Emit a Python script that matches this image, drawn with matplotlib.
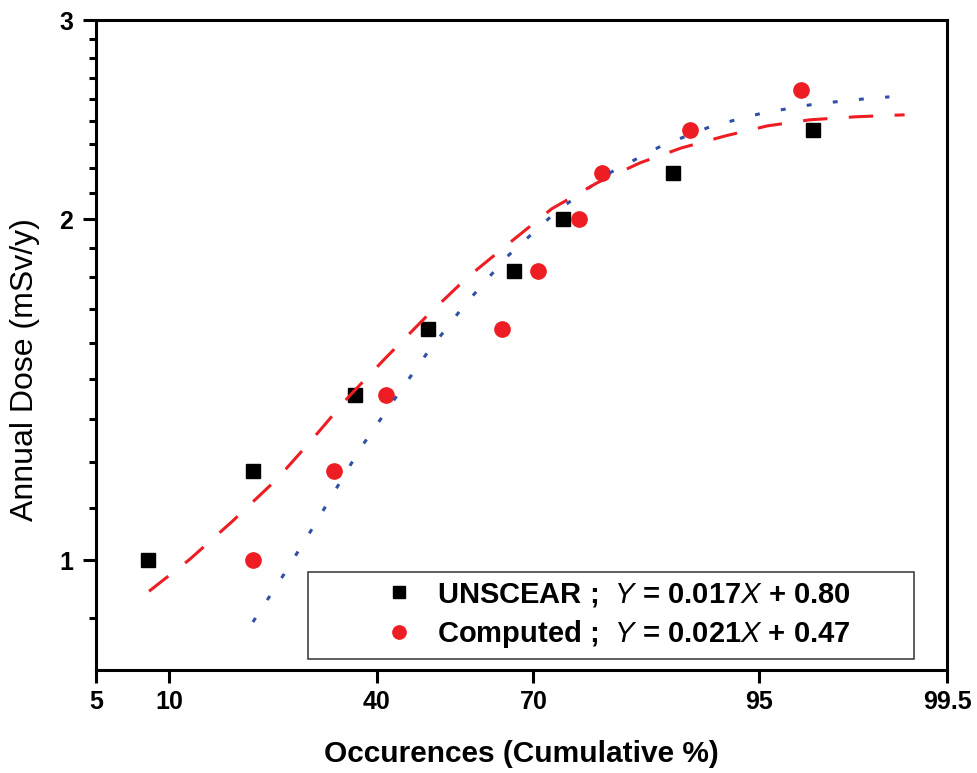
from statistics import NormalDist

import matplotlib
matplotlib.use("Agg")
import matplotlib.pyplot as plt
import numpy as np
from matplotlib.legend_handler import HandlerLine2D
from matplotlib.ticker import FixedLocator, NullFormatter, NullLocator

plt.rcParams['font.family'] = ['Liberation Sans', 'DejaVu Sans']
plt.rcParams['mathtext.fontset'] = 'custom'
plt.rcParams['mathtext.rm'] = 'Liberation Sans'
plt.rcParams['mathtext.it'] = 'Liberation Sans:italic'

# measured doses, cumulative occurrence in %
unscear_pct = [8.3, 19.3, 35.9, 50.1, 66.6, 74.9, 88.8, 97.2]
unscear_dose = [1.0, 1.2, 1.4, 1.6, 1.8, 2.0, 2.2, 2.4]
computed_pct = [19.3, 32.1, 41.8, 64.4, 70.8, 77.4, 80.7, 90.3, 96.8]
computed_dose = [1.0, 1.2, 1.4, 1.6, 1.8, 2.0, 2.2, 2.4, 2.6]

# fitted curves
unscear_fit_pct = [19.3, 23.8, 28.7, 36.9, 43.0, 49.7, 57.0, 65.3, 74.0, 81.7,
                   87.7, 92.1, 95.2, 97.3, 98.5, 98.9]
unscear_fit_dose = [0.882, 0.972, 1.074, 1.255, 1.378, 1.520, 1.675, 1.854, 2.036, 2.199,
                    2.323, 2.419, 2.484, 2.530, 2.556, 2.566]
computed_fit_pct = [8.35, 11.9, 16.6, 22.7, 28.2, 34.6, 41.8, 49.7, 57.7, 66.0,
                    73.1, 80.0, 85.4, 89.6, 93.0, 95.4, 97.1, 98.3, 99.1]
computed_fit_dose = [0.939, 1.002, 1.082, 1.179, 1.276, 1.392, 1.510, 1.641, 1.776, 1.911,
                     2.044, 2.155, 2.244, 2.313, 2.370, 2.419, 2.449, 2.464, 2.474]

unscear_label = r"UNSCEAR ;  $Y$ = 0.017$X$ + 0.80"
computed_label = r"Computed ;  $Y$ = 0.021$X$ + 0.47"

x_ticks = [5, 10, 40, 70, 95, 99.5]
x_tick_labels = ["5", "10", "40", "70", "95", "99.5"]
y_ticks = [1, 2, 3]
y_tick_labels = ["1", "2", "3"]

# normal probability scale for the x axis
_norm = NormalDist()
_ppf = np.vectorize(_norm.inv_cdf, otypes=[float])
_cdf = np.vectorize(_norm.cdf, otypes=[float])


def pct_to_z(p):
    p = np.clip(np.asarray(p, dtype=float) / 100.0, 1e-9, 1 - 1e-9)
    return _ppf(p)


def z_to_pct(z):
    return _cdf(np.asarray(z, dtype=float)) * 100.0


red = '#ee1d23'
blue = '#3050a8'

fig = plt.figure(figsize=(9.78, 7.73), dpi=100)
ax = fig.add_axes([0.0982, 0.1332, 0.8701, 0.8409])

sq, = ax.plot(unscear_pct, unscear_dose, 's', color='black', markersize=10.5,
              linestyle='none', label=unscear_label, zorder=2)
ci, = ax.plot(computed_pct, computed_dose, 'o', color=red, markersize=11,
              linestyle='none', label=computed_label, zorder=2)

ax.plot(unscear_fit_pct, unscear_fit_dose, color=blue, linewidth=2.2,
        linestyle=(0, (1.6, 7.0)), zorder=3)
ax.plot(computed_fit_pct, computed_fit_dose, color=red, linewidth=2.2,
        linestyle=(0, (8, 7)), zorder=3)

ax.set_xscale('function', functions=(pct_to_z, z_to_pct))
ax.set_yscale('log')
ax.set_xlim(5, 99.5)
ax.set_ylim(0.8, 3)

ax.xaxis.set_major_locator(FixedLocator(x_ticks))
ax.set_xticklabels(x_tick_labels)
ax.xaxis.set_minor_locator(NullLocator())

# minor ticks split each unit into nine equal steps
y_minor = [1 - 1 / 9] + [b + k / 9 for b in (1, 2) for k in range(1, 9)]
ax.yaxis.set_major_locator(FixedLocator(y_ticks))
ax.set_yticklabels(y_tick_labels)
ax.yaxis.set_minor_locator(FixedLocator(y_minor))
ax.yaxis.set_minor_formatter(NullFormatter())

ax.tick_params(axis='both', which='major', direction='out', length=9.4, width=2.2,
               labelsize=18, colors='black')
ax.tick_params(axis='y', which='minor', direction='out', length=5, width=2.2)
ax.tick_params(axis='x', which='major', pad=5)
ax.tick_params(axis='y', which='major', pad=7)
for lbl in ax.get_xticklabels() + ax.get_yticklabels():
    lbl.set_fontweight('bold')

for s in ax.spines.values():
    s.set_linewidth(2.2)
    s.set_color('black')

ax.set_xlabel("Occurences (Cumulative %)", fontsize=21.5, fontweight='bold')
ax.set_ylabel("Annual Dose (mSv/y)", fontsize=23)
ax.xaxis.set_label_coords(0.5, -0.108)
ax.yaxis.set_label_coords(-0.0658, 0.4615)

leg = ax.legend(handles=[sq, ci], loc='lower left',
                bbox_to_anchor=(0.249, 0.017, 0.712, 0.0), mode='expand',
                borderaxespad=0, prop={'weight': 'bold', 'size': 21},
                handlelength=3.81, handletextpad=0.3, borderpad=0.31,
                labelspacing=0.3, markerscale=0.87, fancybox=False,
                framealpha=1, edgecolor='#333333',
                handler_map={sq: HandlerLine2D(xpad=1.8), ci: HandlerLine2D(xpad=1.8)})
leg.get_frame().set_linewidth(1.1)

fig.savefig("out.png", dpi=100)
